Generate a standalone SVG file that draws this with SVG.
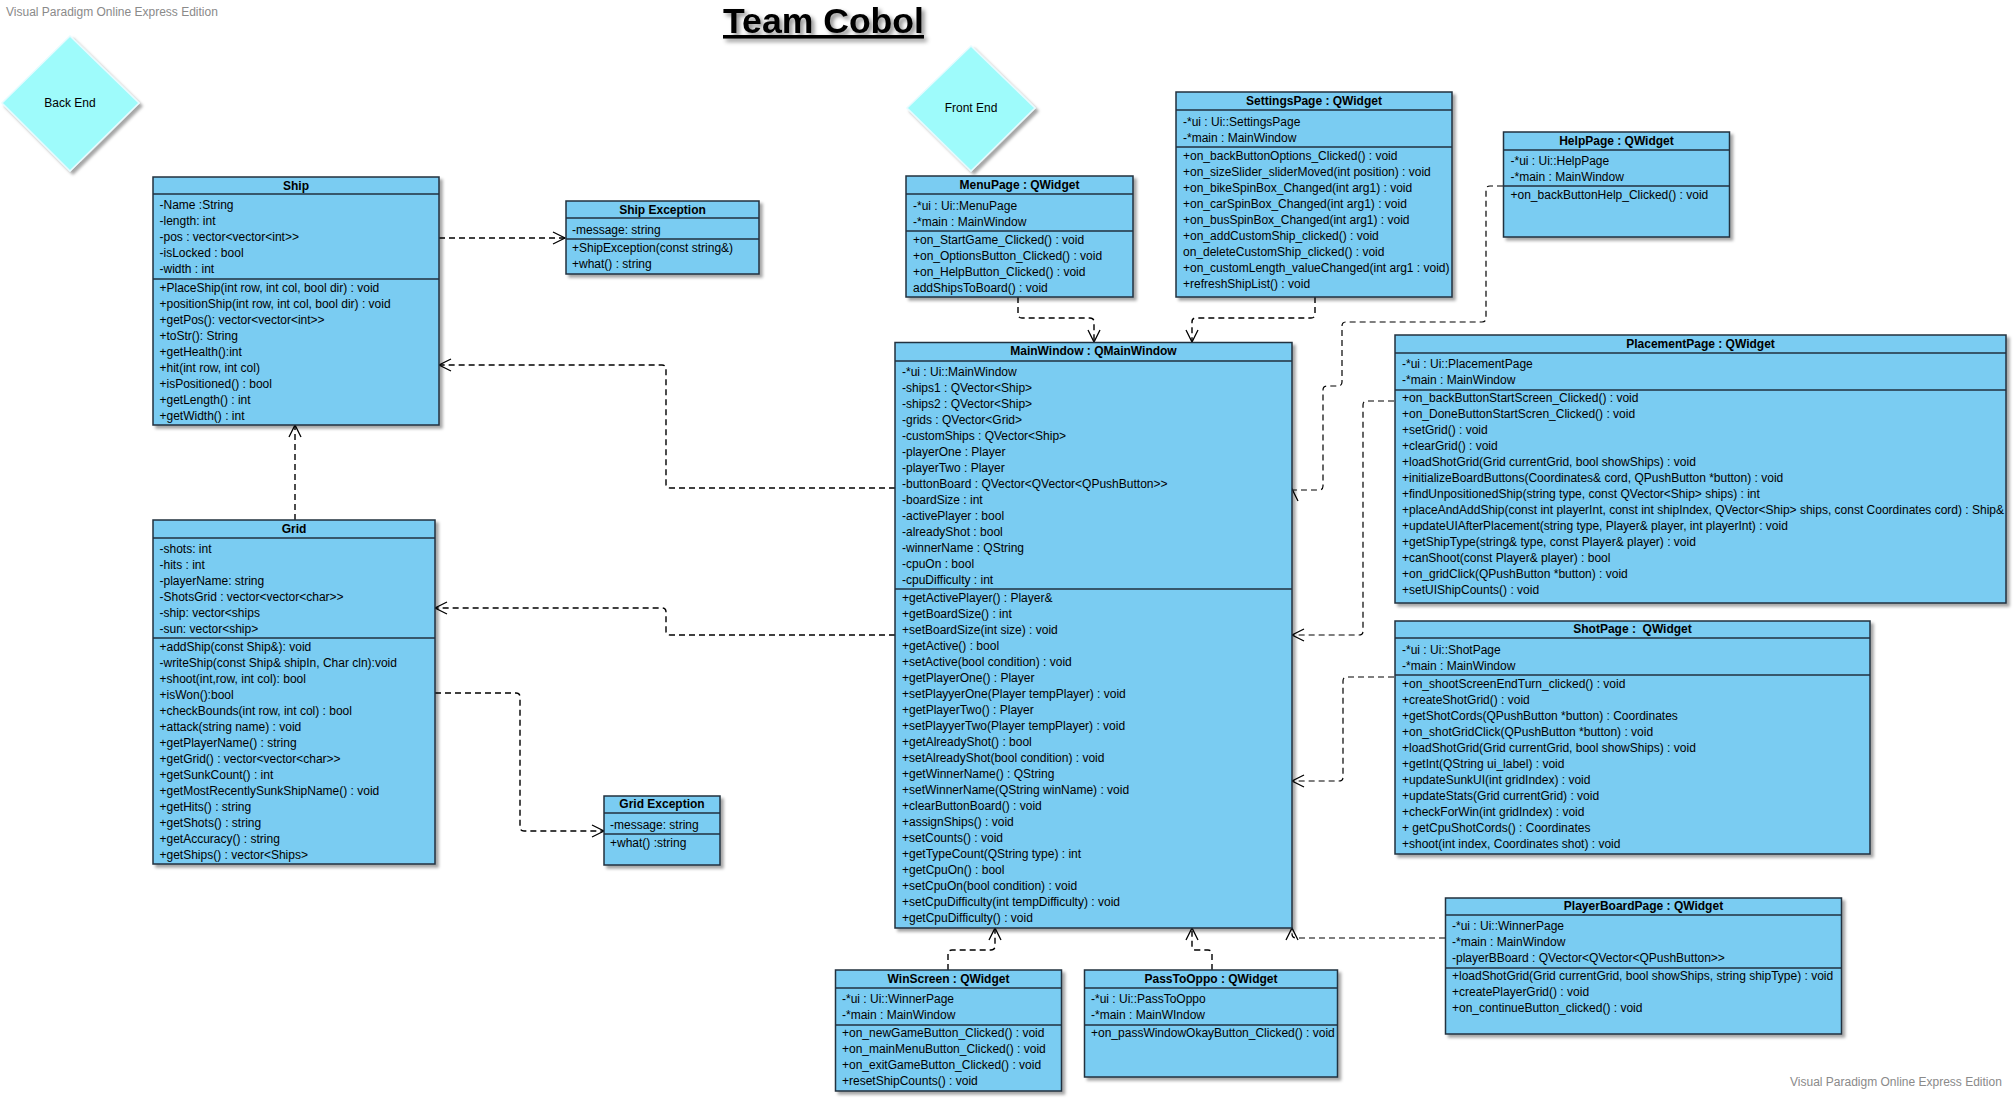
<svg xmlns="http://www.w3.org/2000/svg" width="2013" height="1098" viewBox="0 0 2013 1098">
<defs>
<style>
text{font-family:"Liberation Sans",Arial,sans-serif;font-size:12px;fill:#000}
.wm{fill:#8a8a8a}
.h{font-weight:bold;text-anchor:middle}
.box{fill:#7ACCF2;stroke:#22313f;stroke-width:1.5;filter:url(#sh)}
.div{stroke:#22313f;stroke-width:1.5}
.dia{fill:#9EFBFB;stroke:#e6fbff;stroke-width:1.5;filter:url(#sh)}
.c{fill:none;stroke:#000;stroke-width:1.4;stroke-dasharray:6 4;marker-end:url(#arr)}
.title{font-size:35.6px;font-weight:bold;text-decoration:underline;filter:url(#tsh)}
</style>
<filter id="sh" x="-10%" y="-10%" width="130%" height="130%">
<feDropShadow dx="3" dy="3" stdDeviation="1.5" flood-color="#000" flood-opacity="0.35"/>
</filter>
<filter id="tsh" x="-10%" y="-30%" width="130%" height="180%">
<feDropShadow dx="3" dy="3" stdDeviation="2" flood-color="#000" flood-opacity="0.45"/>
</filter>
<marker id="arr" markerWidth="14" markerHeight="14" refX="12" refY="6" orient="auto" markerUnits="userSpaceOnUse" overflow="visible">
<path d="M0,0 L12,6 L0,12" fill="none" stroke="#000" stroke-width="1.3"/>
</marker>
</defs>
<rect width="2013" height="1098" fill="#fff"/>
<text class="wm" x="6" y="16">Visual Paradigm Online Express Edition</text>
<text class="wm" x="1790" y="1086">Visual Paradigm Online Express Edition</text>
<text class="title" x="723" y="33">Team Cobol</text>

<g id="backEnd">
<polygon class="dia" points="70,36 139,103 70,171 2,103"/>
<text x="70" y="107" text-anchor="middle">Back End</text>
</g>
<g id="frontEnd">
<polygon class="dia" points="971,46 1035,108 971,171 907,108"/>
<text x="971" y="112" text-anchor="middle">Front End</text>
</g>

<g id="connectors">
<path class="c" d="M439,238 H565"/>
<path class="c" d="M895,488 H670 Q666,488 666,484 V369 Q666,365 662,365 H439"/>
<path class="c" d="M895,635 H670 Q666,635 666,631 V612 Q666,608 662,608 H435"/>
<path class="c" d="M295,520 V425"/>
<path class="c" d="M435,693 H516 Q520,693 520,697 V827 Q520,831 524,831 H604"/>
<path class="c" d="M1018,297 V314 Q1018,318 1022,318 H1090 Q1094,318 1094,322 V342"/>
<path class="c" d="M1315,297 V314 Q1315,318 1311,318 H1196 Q1192,318 1192,322 V342"/>
<path class="c" style="stroke-width:1.2" d="M1503,186 H1490 Q1486,186 1486,190 V318 Q1486,322 1482,322 H1346 Q1342,322 1342,326 V382 Q1342,386 1338,386 H1327 Q1323,386 1323,390 V486 Q1323,490 1319,490 H1292 V489"/>
<path class="c" style="stroke-width:1.2" d="M1394,401 H1367 Q1363,401 1363,405 V631 Q1363,635 1359,635 H1292"/>
<path class="c" style="stroke-width:1.2" d="M1394,677 H1347 Q1343,677 1343,681 V777 Q1343,781 1339,781 H1292"/>
<path class="c" style="stroke-width:1.2" d="M1445,938 H1296 Q1292,938 1292,934 V928"/>
<path class="c" d="M948,970 V954 Q948,950 952,950 H991 Q995,950 995,946 V928"/>
<path class="c" d="M1212,970 V954 Q1212,950 1208,950 H1196 Q1192,950 1192,946 V928"/>
</g>

<g id="ship">
<rect class="box" x="153" y="177" width="286" height="248"/>
<line class="div" x1="153" y1="194" x2="439" y2="194"/>
<line class="div" x1="153" y1="279" x2="439" y2="279"/>
<text class="h" x="296" y="190">Ship</text>
<text x="159.5" y="209">-Name :String</text>
<text x="159.5" y="225">-length: int</text>
<text x="159.5" y="241">-pos : vector&lt;vector&lt;int&gt;&gt;</text>
<text x="159.5" y="257">-isLocked : bool</text>
<text x="159.5" y="273">-width : int</text>
<text x="159.5" y="292">+PlaceShip(int row, int col, bool dir) : void</text>
<text x="159.5" y="308">+positionShip(int row, int col, bool dir) : void</text>
<text x="159.5" y="324">+getPos(): vector&lt;vector&lt;int&gt;&gt;</text>
<text x="159.5" y="340">+toStr(): String</text>
<text x="159.5" y="356">+getHealth():int</text>
<text x="159.5" y="372">+hit(int row, int col)</text>
<text x="159.5" y="388">+isPositioned() : bool</text>
<text x="159.5" y="404">+getLength() : int</text>
<text x="159.5" y="420">+getWidth() : int</text>
</g>

<g id="shipException">
<rect class="box" x="566" y="201" width="193" height="73"/>
<line class="div" x1="566" y1="218" x2="759" y2="218"/>
<line class="div" x1="566" y1="239" x2="759" y2="239"/>
<text class="h" x="662.5" y="213.5">Ship Exception</text>
<text x="572" y="234">-message: string</text>
<text x="572" y="252">+ShipException(const string&amp;)</text>
<text x="572" y="268">+what() : string</text>
</g>

<g id="grid">
<rect class="box" x="153" y="520" width="282" height="344"/>
<line class="div" x1="153" y1="538" x2="435" y2="538"/>
<line class="div" x1="153" y1="638" x2="435" y2="638"/>
<text class="h" x="294" y="532.5">Grid</text>
<text x="159.5" y="553">-shots: int</text>
<text x="159.5" y="569">-hits : int</text>
<text x="159.5" y="585">-playerName: string</text>
<text x="159.5" y="601">-ShotsGrid : vector&lt;vector&lt;char&gt;&gt;</text>
<text x="159.5" y="617">-ship: vector&lt;ships</text>
<text x="159.5" y="633">-sun: vector&lt;ship&gt;</text>
<text x="159.5" y="651">+addShip(const Ship&amp;): void</text>
<text x="159.5" y="667">-writeShip(const Ship&amp; shipIn, Char cln):void</text>
<text x="159.5" y="683">+shoot(int,row, int col): bool</text>
<text x="159.5" y="699">+isWon():bool</text>
<text x="159.5" y="715">+checkBounds(int row, int col) : bool</text>
<text x="159.5" y="731">+attack(string name) : void</text>
<text x="159.5" y="747">+getPlayerName() : string</text>
<text x="159.5" y="763">+getGrid() : vector&lt;vector&lt;char&gt;&gt;</text>
<text x="159.5" y="779">+getSunkCount() : int</text>
<text x="159.5" y="795">+getMostRecentlySunkShipName() : void</text>
<text x="159.5" y="811">+getHits() : string</text>
<text x="159.5" y="827">+getShots() : string</text>
<text x="159.5" y="843">+getAccuracy() : string</text>
<text x="159.5" y="859">+getShips() : vector&lt;Ships&gt;</text>
</g>

<g id="gridException">
<rect class="box" x="604" y="796" width="116" height="69"/>
<line class="div" x1="604" y1="813" x2="720" y2="813"/>
<line class="div" x1="604" y1="834" x2="720" y2="834"/>
<text class="h" x="662" y="808">Grid Exception</text>
<text x="610" y="829">-message: string</text>
<text x="610" y="847">+what() :string</text>
</g>

<g id="menuPage">
<rect class="box" x="906" y="176" width="227" height="121"/>
<line class="div" x1="906" y1="194" x2="1133" y2="194"/>
<line class="div" x1="906" y1="231" x2="1133" y2="231"/>
<text class="h" x="1019.5" y="188.5">MenuPage : QWidget</text>
<text x="913" y="210">-*ui : Ui::MenuPage</text>
<text x="913" y="226">-*main : MainWindow</text>
<text x="913" y="244">+on_StartGame_Clicked() : void</text>
<text x="913" y="260">+on_OptionsButton_Clicked() : void</text>
<text x="913" y="276">+on_HelpButton_Clicked() : void</text>
<text x="913" y="292">addShipsToBoard() : void</text>
</g>

<g id="settingsPage">
<rect class="box" x="1176" y="92" width="276" height="205"/>
<line class="div" x1="1176" y1="110" x2="1452" y2="110"/>
<line class="div" x1="1176" y1="147" x2="1452" y2="147"/>
<text class="h" x="1314" y="104.5">SettingsPage : QWidget</text>
<text x="1183" y="126">-*ui : Ui::SettingsPage</text>
<text x="1183" y="142">-*main : MainWindow</text>
<text x="1183" y="160">+on_backButtonOptions_Clicked() : void</text>
<text x="1183" y="176">+on_sizeSlider_sliderMoved(int position) : void</text>
<text x="1183" y="192">+on_bikeSpinBox_Changed(int arg1) : void</text>
<text x="1183" y="208">+on_carSpinBox_Changed(int arg1) : void</text>
<text x="1183" y="224">+on_busSpinBox_Changed(int arg1) : void</text>
<text x="1183" y="240">+on_addCustomShip_clicked() : void</text>
<text x="1183" y="256">on_deleteCustomShip_clicked() : void</text>
<text x="1183" y="272">+on_customLength_valueChanged(int arg1 : void)</text>
<text x="1183" y="288">+refreshShipList() : void</text>
</g>

<g id="helpPage">
<rect class="box" x="1503.5" y="132" width="226" height="105"/>
<line class="div" x1="1503.5" y1="150" x2="1729.5" y2="150"/>
<line class="div" x1="1503.5" y1="186" x2="1729.5" y2="186"/>
<text class="h" x="1616.5" y="144.5">HelpPage : QWidget</text>
<text x="1510.5" y="165">-*ui : Ui::HelpPage</text>
<text x="1510.5" y="181">-*main : MainWindow</text>
<text x="1510.5" y="199">+on_backButtonHelp_Clicked() : void</text>
</g>

<g id="mainWindow">
<rect class="box" x="895" y="342.5" width="397" height="585.5"/>
<line class="div" x1="895" y1="361" x2="1292" y2="361"/>
<line class="div" x1="895" y1="589" x2="1292" y2="589"/>
<text class="h" x="1093.5" y="355">MainWindow : QMainWindow</text>
<text x="902" y="376">-*ui : Ui::MainWindow</text>
<text x="902" y="392">-ships1 : QVector&lt;Ship&gt;</text>
<text x="902" y="408">-ships2 : QVector&lt;Ship&gt;</text>
<text x="902" y="424">-grids : QVector&lt;Grid&gt;</text>
<text x="902" y="440">-customShips : QVector&lt;Ship&gt;</text>
<text x="902" y="456">-playerOne : Player</text>
<text x="902" y="472">-playerTwo : Player</text>
<text x="902" y="488">-buttonBoard : QVector&lt;QVector&lt;QPushButton&gt;&gt;</text>
<text x="902" y="504">-boardSize : int</text>
<text x="902" y="520">-activePlayer : bool</text>
<text x="902" y="536">-alreadyShot : bool</text>
<text x="902" y="552">-winnerName : QString</text>
<text x="902" y="568">-cpuOn : bool</text>
<text x="902" y="584">-cpuDifficulty : int</text>
<text x="902" y="602">+getActivePlayer() : Player&amp;</text>
<text x="902" y="618">+getBoardSize() : int</text>
<text x="902" y="634">+setBoardSize(int size) : void</text>
<text x="902" y="650">+getActive() : bool</text>
<text x="902" y="666">+setActive(bool condition) : void</text>
<text x="902" y="682">+getPlayerOne() : Player</text>
<text x="902" y="698">+setPlayyerOne(Player tempPlayer) : void</text>
<text x="902" y="714">+getPlayerTwo() : Player</text>
<text x="902" y="730">+setPlayyerTwo(Player tempPlayer) : void</text>
<text x="902" y="746">+getAlreadyShot() : bool</text>
<text x="902" y="762">+setAlreadyShot(bool condition) : void</text>
<text x="902" y="778">+getWinnerName() : QString</text>
<text x="902" y="794">+setWinnerName(QString winName) : void</text>
<text x="902" y="810">+clearButtonBoard() : void</text>
<text x="902" y="826">+assignShips() : void</text>
<text x="902" y="842">+setCounts() : void</text>
<text x="902" y="858">+getTypeCount(QString type) : int</text>
<text x="902" y="874">+getCpuOn() : bool</text>
<text x="902" y="890">+setCpuOn(bool condition) : void</text>
<text x="902" y="906">+setCpuDifficulty(int tempDifficulty) : void</text>
<text x="902" y="922">+getCpuDifficulty() : void</text>
</g>

<g id="placementPage">
<rect class="box" x="1395" y="335" width="611" height="268"/>
<line class="div" x1="1395" y1="353" x2="2006" y2="353"/>
<line class="div" x1="1395" y1="390" x2="2006" y2="390"/>
<text class="h" x="1700.5" y="347.5">PlacementPage : QWidget</text>
<text x="1402" y="368">-*ui : Ui::PlacementPage</text>
<text x="1402" y="384">-*main : MainWindow</text>
<text x="1402" y="402">+on_backButtonStartScreen_Clicked() : void</text>
<text x="1402" y="418">+on_DoneButtonStartScren_Clicked() : void</text>
<text x="1402" y="434">+setGrid() : void</text>
<text x="1402" y="450">+clearGrid() : void</text>
<text x="1402" y="466">+loadShotGrid(Grid currentGrid, bool showShips) : void</text>
<text x="1402" y="482">+initializeBoardButtons(Coordinates&amp; cord, QPushButton *button) : void</text>
<text x="1402" y="498">+findUnpositionedShip(string type, const QVector&lt;Ship&gt; ships) : int</text>
<text x="1402" y="514">+placeAndAddShip(const int playerInt, const int shipIndex, QVector&lt;Ship&gt; ships, const Coordinates cord) : Ship&amp;</text>
<text x="1402" y="530">+updateUIAfterPlacement(string type, Player&amp; player, int playerInt) : void</text>
<text x="1402" y="546">+getShipType(string&amp; type, const Player&amp; player) : void</text>
<text x="1402" y="562">+canShoot(const Player&amp; player) : bool</text>
<text x="1402" y="578">+on_gridClick(QPushButton *button) : void</text>
<text x="1402" y="594">+setUIShipCounts() : void</text>
</g>

<g id="shotPage">
<rect class="box" x="1395" y="621" width="475" height="233"/>
<line class="div" x1="1395" y1="638" x2="1870" y2="638"/>
<line class="div" x1="1395" y1="675" x2="1870" y2="675"/>
<text class="h" x="1632.5" y="633" xml:space="preserve">ShotPage :  QWidget</text>
<text x="1402" y="654">-*ui : Ui::ShotPage</text>
<text x="1402" y="670">-*main : MainWindow</text>
<text x="1402" y="688">+on_shootScreenEndTurn_clicked() : void</text>
<text x="1402" y="704">+createShotGrid() : void</text>
<text x="1402" y="720">+getShotCords(QPushButton *button) : Coordinates</text>
<text x="1402" y="736">+on_shotGridClick(QPushButton *button) : void</text>
<text x="1402" y="752">+loadShotGrid(Grid currentGrid, bool showShips) : void</text>
<text x="1402" y="768">+getInt(QString ui_label) : void</text>
<text x="1402" y="784">+updateSunkUI(int gridIndex) : void</text>
<text x="1402" y="800">+updateStats(Grid currentGrid) : void</text>
<text x="1402" y="816">+checkForWin(int gridIndex) : void</text>
<text x="1402" y="832" xml:space="preserve">+ getCpuShotCords() : Coordinates</text>
<text x="1402" y="848">+shoot(int index, Coordinates shot) : void</text>
</g>

<g id="playerBoardPage">
<rect class="box" x="1445.5" y="898" width="396" height="136"/>
<line class="div" x1="1445.5" y1="915" x2="1841.5" y2="915"/>
<line class="div" x1="1445.5" y1="968" x2="1841.5" y2="968"/>
<text class="h" x="1643.5" y="910">PlayerBoardPage : QWidget</text>
<text x="1452" y="930">-*ui : Ui::WinnerPage</text>
<text x="1452" y="946">-*main : MainWindow</text>
<text x="1452" y="962">-playerBBoard : QVector&lt;QVector&lt;QPushButton&gt;&gt;</text>
<text x="1452" y="980">+loadShotGrid(Grid currentGrid, bool showShips, string shipType) : void</text>
<text x="1452" y="996">+createPlayerGrid() : void</text>
<text x="1452" y="1012">+on_continueButton_clicked() : void</text>
</g>

<g id="winScreen">
<rect class="box" x="835.5" y="970" width="226" height="121"/>
<line class="div" x1="835.5" y1="988" x2="1061.5" y2="988"/>
<line class="div" x1="835.5" y1="1025" x2="1061.5" y2="1025"/>
<text class="h" x="948.5" y="982.5">WinScreen : QWidget</text>
<text x="842" y="1003">-*ui : Ui::WinnerPage</text>
<text x="842" y="1019">-*main : MainWindow</text>
<text x="842" y="1037">+on_newGameButton_Clicked() : void</text>
<text x="842" y="1053">+on_mainMenuButton_Clicked() : void</text>
<text x="842" y="1069">+on_exitGameButton_Clicked() : void</text>
<text x="842" y="1085">+resetShipCounts() : void</text>
</g>

<g id="passToOppo">
<rect class="box" x="1084.5" y="970" width="253" height="107"/>
<line class="div" x1="1084.5" y1="988" x2="1337.5" y2="988"/>
<line class="div" x1="1084.5" y1="1025" x2="1337.5" y2="1025"/>
<text class="h" x="1211" y="982.5">PassToOppo : QWidget</text>
<text x="1091" y="1003">-*ui : Ui::PassToOppo</text>
<text x="1091" y="1019">-*main : MainWIndow</text>
<text x="1091" y="1037">+on_passWindowOkayButton_Clicked() : void</text>
</g>
</svg>
